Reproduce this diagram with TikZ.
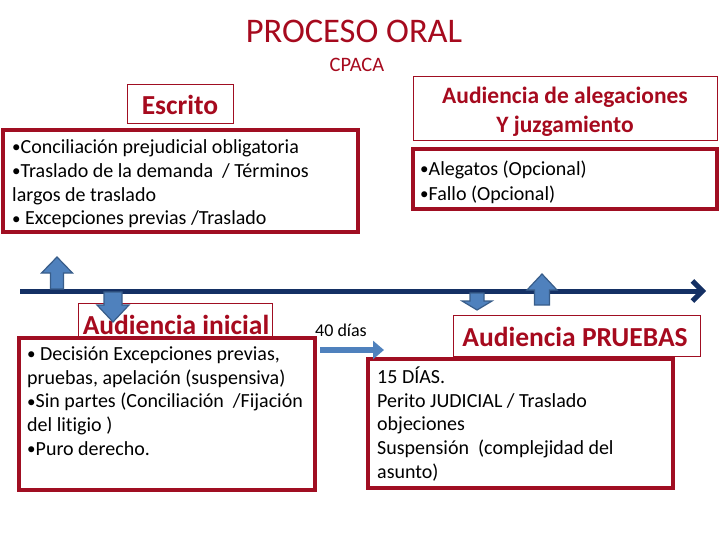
\documentclass[tikz,border=0pt]{standalone}
\usepackage{fontspec}
\setmainfont[Ligatures=NoCommon]{Carlito}
\usetikzlibrary{arrows.meta}
\definecolor{dred}{RGB}{166,10,30}
\definecolor{bred}{RGB}{160,14,34}
\definecolor{navy}{RGB}{20,48,100}
\definecolor{ablue}{RGB}{79,129,189}
\definecolor{ablueb}{RGB}{56,93,138}
\newcommand\bul{\raisebox{0.04em}{\scalebox{0.85}{•}}}
\tikzset{
  thinbox/.style={draw=bred, line width=1pt, fill=white, inner sep=0pt},
  thickbox/.style={draw=bred, line width=3.5pt, fill=white, inner sep=0pt},
  titletext/.style={text=dred, font=\fontsize{27.5}{30}\selectfont\bfseries, align=center},
  boxtext/.style={font=\fontsize{20}{23.75}\selectfont, align=left, inner sep=0pt, anchor=north west},
  blockarrow/.style={fill=ablue, draw=ablueb, line width=1.2pt, line join=miter},
}
\begin{document}
\begin{tikzpicture}[x=1pt,y=-1pt]
\useasboundingbox (0,0) rectangle (720,540);

% titles
\node[text=dred, font=\fontsize{34.5}{38}\selectfont, inner sep=0pt] (title) at (354,31) {PROCESO ORAL};
\node[text=dred, font=\fontsize{20.5}{22}\selectfont, inner sep=0pt] (cpaca) at (357,65) {CPACA};

% Escrito
\node[thinbox, titletext, minimum width=106pt, minimum height=39pt] (escrito) at (180,104.5) {Escrito};
\node[thickbox, minimum width=355pt, minimum height=102pt] (escbox) at (180.5,181) {};
\node[boxtext] (esctext) at (12,139.5) {\bul Conciliación prejudicial obligatoria\\\bul Traslado de la demanda~ / Términos\\largos de traslado\\\bul\ Excepciones previas /Traslado};

% Alegaciones
\node[thinbox, minimum width=304pt, minimum height=64pt] (alegtitle) at (565,109) {};
\node[titletext, font=\fontsize{23.5}{29}\selectfont\bfseries, inner sep=0pt] (alegtitletext) at (565,111.5) {Audiencia de alegaciones\\Y juzgamiento};
\node[thickbox, minimum width=304pt, minimum height=60pt] (alegbox) at (565,179) {};
\node[boxtext, font=\fontsize{20}{25}\selectfont] (alegtext) at (420,160.5) {\bul Alegatos (Opcional)\\\bul Fallo (Opcional)};

% timeline
\coordinate (tlstart) at (20,291);
\coordinate (tlend) at (706,291);
\draw[navy, line width=5pt, -{Straight Barb[length=10pt,width=20pt]}] (tlstart) -- (tlend);

% Audiencia inicial
\node[thinbox, minimum width=194pt, minimum height=36pt] (initbox) at (175,321) {};
\node[titletext, inner sep=0pt] (inittext) at (176,325) {Audiencia inicial};
\node[thickbox, minimum width=296pt, minimum height=152pt] (initlist) at (167,414) {};
\node[boxtext] (initlisttext) at (27,346.5) {\bul\ Decisión Excepciones previas,\\pruebas, apelación (suspensiva)\\\bul Sin partes (Conciliación~ /Fijación\\del litigio )\\\bul Puro derecho.};

% Audiencia pruebas
\node[thinbox, minimum width=247pt, minimum height=41pt] (prubox) at (576.5,335.5) {};
\node[titletext, inner sep=0pt] (prutext) at (575,337) {Audiencia PRUEBAS};
\node[thickbox, minimum width=305pt, minimum height=129pt] (prulist) at (520.5,423.5) {};
\node[boxtext] (prulisttext) at (377,366.5) {15 DÍAS.\\Perito JUDICIAL / Traslado\\objeciones\\Suspensión~ (complejidad del\\asunto)};

% 40 dias
\node[font=\fontsize{18}{20}\selectfont, inner sep=0pt] (dias) at (341,330) {40 días};
\coordinate (d1) at (320,350);
\coordinate (d2) at (384,350);
\draw[ablue, line width=6pt, -{Triangle[length=11pt,width=18pt]}] (d1) -- (d2);

% block arrows on the timeline
\draw[blockarrow] (57,257) -- (72.5,273) -- (63.5,273) -- (63.5,289) -- (50.5,289) -- (50.5,273) -- (41.5,273) -- cycle;
\draw[blockarrow] (542,274) -- (557,290) -- (549.5,290) -- (549.5,305) -- (534.5,305) -- (534.5,290) -- (527,290) -- cycle;
\draw[blockarrow] (104,292) -- (122,292) -- (122,305) -- (129,305) -- (113,322) -- (97,305) -- (104,305) -- cycle;
\draw[blockarrow] (470,293) -- (484,293) -- (484,301) -- (492,301) -- (477,310) -- (462,301) -- (470,301) -- cycle;

\end{tikzpicture}
\end{document}
